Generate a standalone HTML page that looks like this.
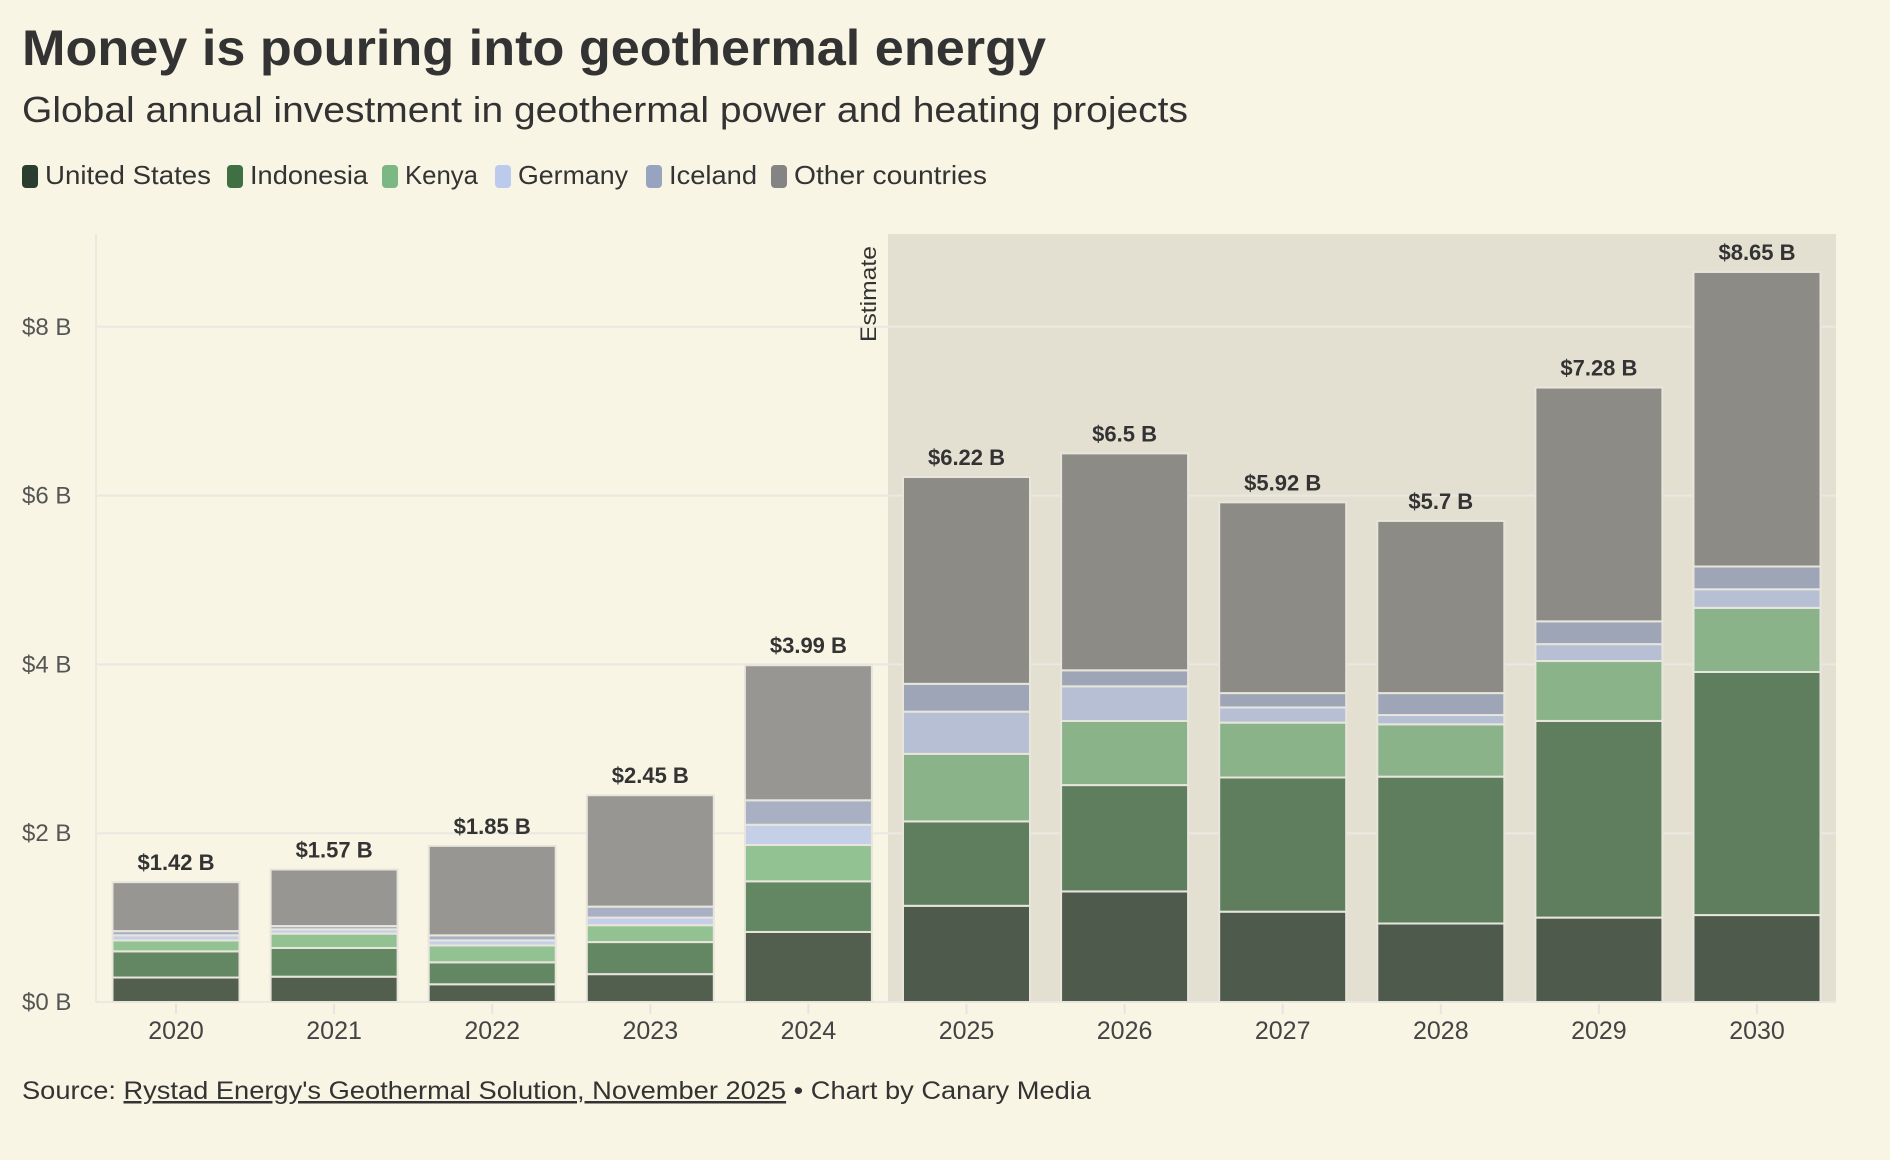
<!DOCTYPE html>
<html><head><meta charset="utf-8"><style>
html,body{margin:0;padding:0;background:#f8f5e4;}
svg{display:block;font-family:"Liberation Sans",sans-serif;}
</style></head><body>
<svg id="chart" width="1890" height="1160" viewBox="0 0 1890 1160">
<rect width="1890" height="1160" fill="#f8f5e4"/>
<text x="22" y="65" font-size="50" font-weight="bold" fill="#333" textLength="1024" lengthAdjust="spacingAndGlyphs">Money is pouring into geothermal energy</text>
<text x="22" y="122" font-size="36" fill="#333" textLength="1166" lengthAdjust="spacingAndGlyphs">Global annual investment in geothermal power and heating projects</text>
<g id="legend"></g>
<rect x="888" y="234" width="948" height="768" fill="#e3e0d2"/>
<text transform="translate(876,342) rotate(-90)" font-size="22" fill="#333" textLength="96" lengthAdjust="spacingAndGlyphs">Estimate</text>
<g id="grid"></g>
<g id="bars"></g>
<g id="labels"></g>
<text x="22" y="1099" font-size="25" fill="#333" textLength="1069" lengthAdjust="spacingAndGlyphs">Source: <tspan text-decoration="underline">Rystad Energy's Geothermal Solution, November 2025</tspan> • Chart by Canary Media</text>
</svg>
<script>
const years = ["2020","2021","2022","2023","2024","2025","2026","2027","2028","2029","2030"];
const seriesNames = ["United States","Indonesia","Kenya","Germany","Iceland","Other countries"];
const unitedStates = [0.29,0.30,0.21,0.33,0.83,1.14,1.31,1.07,0.93,1.00,1.03];
const indonesia = [0.31,0.34,0.26,0.38,0.60,1.00,1.26,1.59,1.74,2.33,2.88];
const kenya = [0.13,0.17,0.20,0.20,0.43,0.80,0.76,0.65,0.62,0.71,0.76];
const germany = [0.06,0.05,0.06,0.09,0.24,0.50,0.41,0.18,0.11,0.20,0.22];
const iceland = [0.05,0.04,0.06,0.13,0.29,0.33,0.19,0.17,0.26,0.27,0.27];
const otherCountries = [0.58,0.67,1.06,1.32,1.60,2.45,2.57,2.26,2.04,2.77,3.49];
const totalLabels = ["$1.42 B","$1.57 B","$1.85 B","$2.45 B","$3.99 B","$6.22 B","$6.5 B","$5.92 B","$5.7 B","$7.28 B","$8.65 B"];
const yTicks = [0,2,4,6,8];
const yTickLabels = ["$0 B","$2 B","$4 B","$6 B","$8 B"];

const NS="http://www.w3.org/2000/svg";
const series=[unitedStates,indonesia,kenya,germany,iceland,otherCountries];
const colors=["#525f4f","#628762","#93c292","#c5cfe8","#a9b0c4","#979692"];
const colorsEst=["#4e5a4c","#5f7e5e","#8bb38a","#b6bfd4","#9da5b6","#8c8b86"];
const legendColors=["#2b3d2e","#3f7044","#7cb883","#bccbeb","#97a3bf","#848484"];
const y0=1002, pxPerB=84.4;
function y(v){return y0-v*pxPerB;}
function xc(i){return 176+i*158.1;}
const bw=127;
function mk(tag,attrs,parent){const e=document.createElementNS(NS,tag);for(const k in attrs)e.setAttribute(k,attrs[k]);parent.appendChild(e);return e;}

const grid=document.getElementById('grid');
yTicks.forEach((t,i)=>{
  const l=mk('line',{x1:96,x2:1836,y1:y(t),y2:y(t),stroke:'#ebe8e2','stroke-width':2},grid);
  
  
  const tx=mk('text',{x:22,y:y(t)+8,'font-size':24,fill:'#555'},grid);
  tx.textContent=yTickLabels[i];
  
  
});
const ax=mk('line',{x1:96,x2:96,y1:234,y2:1002,stroke:'#ebe8e2','stroke-width':2},grid);



const bars=document.getElementById('bars'), labels=document.getElementById('labels');
years.forEach((yr,i)=>{
  let cum=0;
  const pal=i>=5?colorsEst:colors;
  series.forEach((s,k)=>{
    const v=s[i];
    const r=mk('rect',{x:xc(i)-bw/2,y:y(cum+v),width:bw,height:Math.max(0,v*pxPerB),fill:pal[k],stroke:'#e8e6dc','stroke-width':2},bars);
    
    
    cum+=v;
  });
  const tl=mk('text',{x:xc(i),y:y(cum)-12,'font-size':22,'font-weight':'bold',fill:'#333','text-anchor':'middle'},labels);
  tl.textContent=totalLabels[i];
  
  
  const tk=mk('line',{x1:xc(i),x2:xc(i),y1:1004,y2:1014,stroke:'#e6e4de','stroke-width':2},labels);
  
  
  const xl=mk('text',{x:xc(i),y:1039,'font-size':25,fill:'#444','text-anchor':'middle'},labels);
  xl.textContent=yr;
  
  
});

const legend=document.getElementById('legend');
const legX=[22,227,382,495,646,771];
const legW=[166,118,73,110,88,193];
seriesNames.forEach((n,k)=>{
  const sw=mk('rect',{x:legX[k],y:165,width:16,height:23,rx:4,fill:legendColors[k]},legend);
  
  
  const t=mk('text',{x:legX[k]+23,y:184,'font-size':26,fill:'#333',textLength:legW[k],lengthAdjust:'spacingAndGlyphs'},legend);
  t.textContent=n;
  
  
});
</script>
</body></html>
